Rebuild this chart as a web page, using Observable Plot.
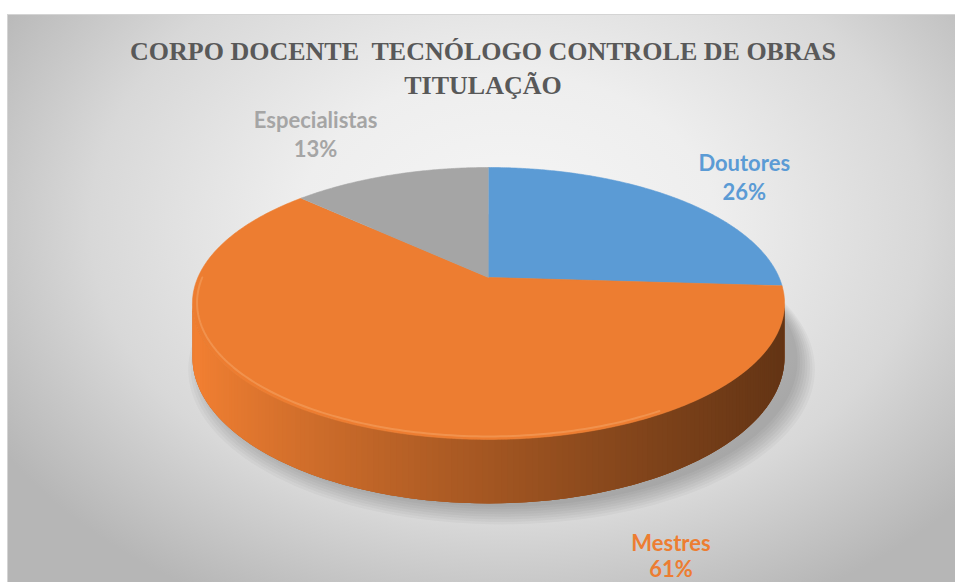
<!DOCTYPE html>
<html>
<head>
<meta charset="utf-8">
<script src="https://cdn.jsdelivr.net/npm/d3@7"></script>
<script src="https://cdn.jsdelivr.net/npm/@observablehq/plot@0.6"></script>
<style>
  html, body { margin: 0; padding: 0; background: #ffffff; }
  #wrap { position: relative; width: 955px; height: 582px; overflow: hidden; }
  #panel {
    position: absolute; left: 7px; top: 14px; width: 960px; height: 580px;
    border-left: 1px solid #d4d4d4; border-top: 1px solid #d4d4d4;
    background: radial-gradient(ellipse 62% 74% at 52% 36%, #f5f5f5 0%, #eeeeee 35%, #d8d8d8 70%, #b6b6b6 100%);
  }
  #title {
    position: absolute; left: 0; top: 35px; width: 966px; text-align: center;
    font-family: "Liberation Serif", "Times New Roman", serif; font-weight: bold;
    font-size: 26px; line-height: 34px; color: #595959; white-space: pre;
  }
  #chart { position: absolute; left: 0; top: 0; }
  #chart svg { background: transparent !important; overflow: visible; }
</style>
</head>
<body>
<div id="wrap">
  <div id="panel"></div>
  <div id="title">CORPO DOCENTE  TECNÓLOGO CONTROLE DE OBRAS
TITULAÇÃO</div>
  <div id="chart"></div>
</div>
<script>
// ---- data ----
const categories = ["Doutores", "Mestres", "Especialistas"];
const values = [26, 61, 13];
const percentLabels = ["26%", "61%", "13%"];
const colors = ["#5B9BD5", "#ED7D31", "#A5A5A5"];

// ---- layout (3D perspective pie) ----
const persp = 0.191;   // perspective strength
const depth = 0.395;   // thickness of the disc (y units)
const labelPos = {     // label anchors in chart units
  Doutores: [0.88, -0.77],
  Mestres: [0.628, 2.125],
  Especialistas: [-0.595, -1.10]
};
const labelLineHeight = {Doutores: 1.3, Mestres: 1.15, Especialistas: 1.3};

function proj(theta, r = 1) {
  const u = r * Math.sin(theta), v = -r * Math.cos(theta);
  const w = 1 - persp * v;
  return {X: u / w, Y: v / w, w};
}

const total = d3.sum(values);
let acc = 0;
const slices = categories.map((c, i) => {
  const a0 = acc / total * 2 * Math.PI;
  acc += values[i];
  const a1 = acc / total * 2 * Math.PI;
  return {name: c, value: values[i], label: percentLabels[i], color: colors[i], a0, a1};
});

// top faces
const topRows = [];
for (const s of slices) {
  topRows.push({id: s.name, X: 0, Y: 0, color: s.color});
  const n = Math.max(2, Math.ceil((s.a1 - s.a0) / (Math.PI / 360)));
  for (let k = 0; k <= n; k++) {
    const p = proj(s.a0 + (s.a1 - s.a0) * k / n);
    topRows.push({id: s.name, X: p.X, Y: p.Y, color: s.color});
  }
}

// side (visible front part between silhouette angles), shaded strips
const thA = Math.acos(-persp), thB = 2 * Math.PI - thA;
const sideBase = [];
const sideRows = [];
let strip = 0;
for (const s of slices) {
  const lo = Math.max(s.a0, thA), hi = Math.min(s.a1, thB);
  if (hi <= lo) continue;
  const base = d3.rgb(s.color);
  const light = base.brighter(0.08), dark = base.darker(2.45);
  const shade = X => d3.interpolateRgb(light, dark)(Math.pow(Math.min(1, Math.max(0, (X + 1.02) / 2.04)), 0.85));
  const n = Math.ceil((hi - lo) / (Math.PI / 180));
  const tops = [], bots = [];
  for (let k = 0; k <= n; k++) {
    const p = proj(lo + (hi - lo) * k / n);
    tops.push({X: p.X, Y: p.Y});
    bots.push({X: p.X, Y: p.Y + depth / p.w});
  }
  for (const r of tops.concat(bots.slice().reverse())) sideBase.push({id: s.name, X: r.X, Y: r.Y, color: shade(0)});
  for (let k = 0; k < n; k++) {
    const k2 = Math.min(n, k + 2);
    const col = shade((tops[k].X + tops[k + 1].X) / 2);
    const id = "s" + (strip++);
    sideRows.push({id, X: tops[k].X, Y: tops[k].Y, color: col});
    sideRows.push({id, X: tops[k2].X, Y: tops[k2].Y, color: col});
    sideRows.push({id, X: bots[k2].X, Y: bots[k2].Y, color: col});
    sideRows.push({id, X: bots[k].X, Y: bots[k].Y, color: col});
  }
}
// soft shadow under disc (layered rings), cast toward the lower right
const shadowRows = [];
for (let layer = 0; layer < 8; layer++) {
  const grow = 1 + layer * 0.008;
  for (let k = 0; k <= 180; k++) {
    const p = proj(k / 180 * 2 * Math.PI, grow);
    shadowRows.push({id: "sh" + layer, X: p.X + 0.045, Y: p.Y + depth / p.w + 0.025 + layer * 0.006});
  }
}
// rim highlight along front edge of top face
const rimRows = [];
for (let k = 0; k <= 120; k++) {
  const p = proj(2 * Math.PI * (150 + k) / 360, 0.985);
  rimRows.push({X: p.X, Y: p.Y});
}

const labelRows = slices.map(s => ({
  X: labelPos[s.name][0], Y: labelPos[s.name][1],
  text: s.name + "\n" + s.label, color: s.color, lh: labelLineHeight[s.name]
}));

const cx = 488, cy = 277, A = 290.6, B = 131;
const chart = Plot.plot({
  width: 955,
  height: 582,
  margin: 0,
  style: {background: "transparent", overflow: "visible"},
  x: {domain: [-1, 1], range: [cx - A, cx + A], axis: null},
  y: {domain: [-1, 1], range: [cy - B, cy + B], axis: null},
  color: {type: "identity"},
  marks: [
    Plot.line(shadowRows, {x: "X", y: "Y", z: "id", fill: "#000", fillOpacity: 0.03, stroke: "none"}),
    Plot.line(sideBase, {x: "X", y: "Y", z: "id", fill: "color", stroke: "none"}),
    Plot.line(sideRows, {x: "X", y: "Y", z: "id", fill: "color", stroke: "none"}),
    Plot.line(topRows, {x: "X", y: "Y", z: "id", fill: "color", stroke: "color", strokeWidth: 0.6}),
    Plot.line(rimRows, {x: "X", y: "Y", stroke: "#f6a86a", strokeWidth: 2, strokeOpacity: 0.5}),
    ...labelRows.map(r => Plot.text([r], {
      x: "X", y: "Y", text: "text", fill: "color",
      fontFamily: "Lato, 'Open Sans', sans-serif", fontWeight: "bold",
      fontSize: 22, lineHeight: r.lh, textAnchor: "middle"
    }))
  ]
});
document.getElementById("chart").appendChild(chart);
</script>
</body>
</html>
